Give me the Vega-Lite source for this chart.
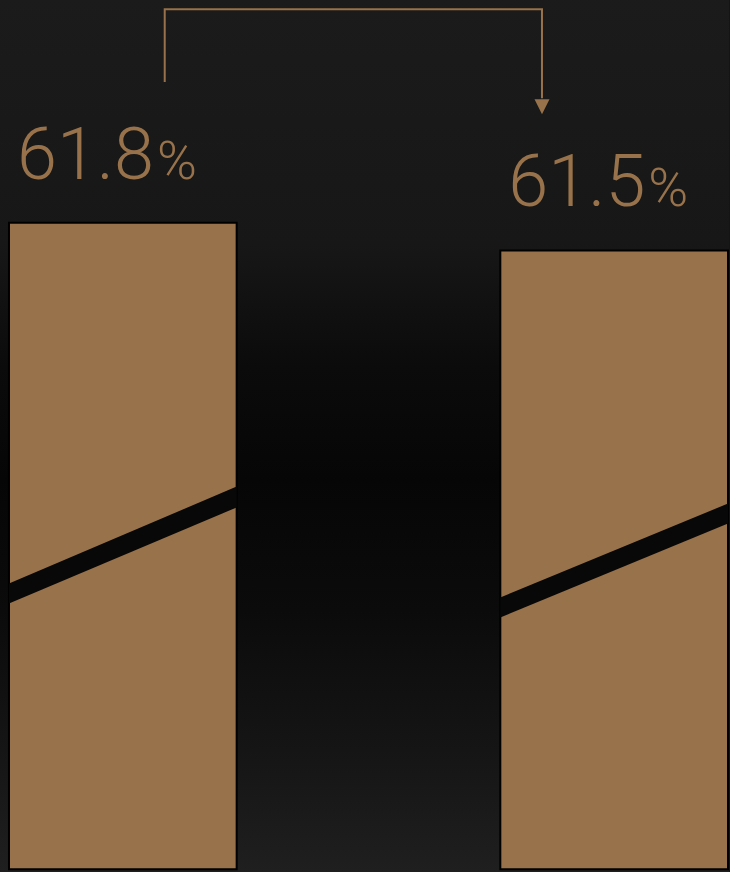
{
  "$schema": "https://vega.github.io/schema/vega-lite/v6.json",
  "width": 730,
  "height": 872,
  "autosize": {"type": "fit", "contains": "padding"},
  "padding": 0,
  "background": "#141414",
  "config": {"view": {"stroke": null}},
  "resolve": {"scale": {"xOffset": "independent"}},
  "datasets": {
    "bars": [
      {"period": "Previous", "value": 61.8},
      {"period": "Current", "value": 61.5}
    ],
    "breaks": [
      {"period": "Previous", "pos": 0, "lo": 57.695, "hi": 57.910},
      {"period": "Previous", "pos": 1, "lo": 58.730, "hi": 58.955},
      {"period": "Current", "pos": 0, "lo": 57.544, "hi": 57.759},
      {"period": "Current", "pos": 1, "lo": 58.557, "hi": 58.772}
    ],
    "connector": [
      {"period": "Previous", "pos": 0.684, "y": 63.316, "step": 1},
      {"period": "Previous", "pos": 0.684, "y": 64.1, "step": 2},
      {"period": "Current", "pos": 0.183, "y": 64.1, "step": 3},
      {"period": "Current", "pos": 0.183, "y": 63.14, "step": 4}
    ],
    "arrowhead": [
      {"period": "Current", "pos": 0.183, "y": 63.05}
    ]
  },
  "layer": [
    {
      "data": {"values": [{}]},
      "mark": {
        "type": "rect",
        "fill": {
          "gradient": "linear",
          "x1": 0, "y1": 0, "x2": 0, "y2": 1,
          "stops": [
            {"offset": 0, "color": "#1b1b1b"},
            {"offset": 0.28, "color": "#171717"},
            {"offset": 0.42, "color": "#0b0b0b"},
            {"offset": 0.55, "color": "#060606"},
            {"offset": 0.7, "color": "#0b0b0b"},
            {"offset": 0.86, "color": "#151515"},
            {"offset": 1, "color": "#1f1f1f"}
          ]
        }
      },
      "encoding": {}
    },
    {
      "data": {"name": "bars"},
      "mark": {"type": "bar", "fill": "#98724a", "stroke": "#000000", "strokeWidth": 2},
      "encoding": {
        "x": {
          "field": "period", "type": "nominal",
          "scale": {"domain": ["Previous", "Current"], "paddingInner": 0.5366, "paddingOuter": 0.01016, "align": 0.9},
          "axis": null
        },
        "y": {
          "field": "value", "type": "quantitative",
          "scale": {"domain": [54.8, 64.2], "nice": false, "zero": false},
          "axis": null
        },
        "y2": {"datum": 54.83}
      }
    },
    {
      "data": {"name": "breaks"},
      "mark": {"type": "area", "fill": "#080808", "orient": "vertical"},
      "encoding": {
        "x": {"field": "period", "type": "nominal"},
        "xOffset": {"field": "pos", "type": "quantitative", "scale": {"domain": [0, 1]}},
        "y": {"field": "lo", "type": "quantitative"},
        "y2": {"field": "hi"},
        "detail": {"field": "period"}
      }
    },
    {
      "data": {"name": "connector"},
      "mark": {"type": "line", "stroke": "#98724a", "strokeWidth": 2, "strokeJoin": "miter"},
      "encoding": {
        "x": {"field": "period", "type": "nominal"},
        "xOffset": {"field": "pos", "type": "quantitative", "scale": {"domain": [0, 1]}},
        "y": {"field": "y", "type": "quantitative"},
        "order": {"field": "step"}
      }
    },
    {
      "data": {"name": "arrowhead"},
      "mark": {"type": "point", "shape": "M-1,-1L1,-1L0,1Z", "filled": true, "fill": "#98724a", "stroke": null, "size": 225, "opacity": 1},
      "encoding": {
        "x": {"field": "period", "type": "nominal"},
        "xOffset": {"field": "pos", "type": "quantitative", "scale": {"domain": [0, 1]}},
        "y": {"field": "y", "type": "quantitative"}
      }
    },
    {
      "data": {"name": "bars"},
      "mark": {"type": "text", "align": "left", "baseline": "alphabetic", "dx": 8, "dy": -44, "font": "Roboto", "fontWeight": 300, "fontSize": 72, "fill": "#98724a"},
      "encoding": {
        "x": {"field": "period", "type": "nominal", "bandPosition": 0},
        "y": {"field": "value", "type": "quantitative"},
        "text": {"field": "value", "type": "quantitative", "format": ".1f"}
      }
    },
    {
      "data": {"name": "bars"},
      "mark": {"type": "text", "align": "left", "baseline": "alphabetic", "dx": 148, "dy": -44, "font": "Roboto", "fontWeight": 300, "fontSize": 54, "fill": "#98724a"},
      "encoding": {
        "x": {"field": "period", "type": "nominal", "bandPosition": 0},
        "y": {"field": "value", "type": "quantitative"},
        "text": {"value": "%"}
      }
    }
  ]
}
